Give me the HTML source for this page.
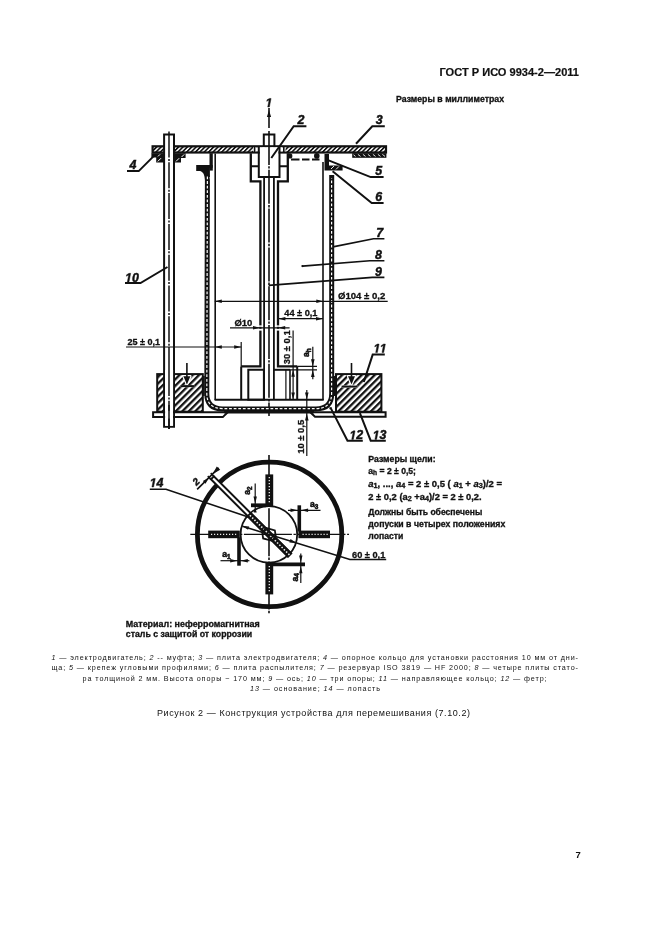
<!DOCTYPE html>
<html lang="ru">
<head>
<meta charset="utf-8">
<title>ГОСТ Р ИСО 9934-2—2011</title>
<style>
html,body{margin:0;padding:0;background:#fff;}
body{width:661px;height:936px;position:relative;overflow:hidden;font-family:"Liberation Sans",sans-serif;color:#111;}
svg{position:absolute;left:0;top:0;will-change:transform;}
svg text{font-family:"Liberation Sans",sans-serif;fill:#111;}
.hdr{font-weight:bold;font-size:10.6px;stroke:#111;stroke-width:0.2px;}
.lbl{font-weight:bold;font-style:italic;font-size:12.4px;stroke:#111;stroke-width:0.45px;}
.dim{font-weight:bold;font-size:9.3px;stroke:#111;stroke-width:0.3px;}
.note{font-weight:bold;font-size:8.6px;stroke:#111;stroke-width:0.3px;}
.cap{font-size:7.2px;}
.fig{font-size:9px;}
.k{stroke:#111;fill:none;stroke-width:2;}
.t{stroke:#111;fill:none;stroke-width:1.2;}
.m{stroke:#111;fill:none;stroke-width:1.6;}
.f{fill:#111;stroke:none;}
#section,#dims,#plan{filter:blur(0.3px);}
.note{filter:blur(0.35px);}
</style>
</head>
<body>
<svg width="661" height="936" viewBox="0 0 661 936">
<defs>
<pattern id="h1" width="3.1" height="3.1" patternUnits="userSpaceOnUse" patternTransform="rotate(45)">
<rect x="0" y="0" width="1.65" height="3.1" fill="#111"/>
</pattern>
<pattern id="h2" width="4.6" height="4.6" patternUnits="userSpaceOnUse" patternTransform="rotate(45)">
<rect x="0" y="0" width="2.3" height="4.6" fill="#111"/>
</pattern>
<pattern id="dots" width="3" height="3" patternUnits="userSpaceOnUse">
<rect width="3" height="3" fill="#111"/><rect x="0.9" y="0.9" width="1.3" height="1.3" fill="#ccc"/>
</pattern>
<pattern id="dots2" width="3.2" height="4.6" patternUnits="userSpaceOnUse">
<rect width="3.2" height="4.6" fill="#111"/><rect x="1" y="1.7" width="1.3" height="1.2" fill="#eee"/>
</pattern>
<path id="g1" d="M381 0L604 1152L223 938L270 1180L666 1409H936L661 0Z" fill="#111" stroke="#111" stroke-width="74" stroke-linejoin="miter"/>
</defs>
<g id="text">
<text class="hdr" x="439.5" y="75.6" textLength="139.5" lengthAdjust="spacingAndGlyphs">ГОСТ Р ИСО 9934-2—2011</text>
<text class="note" x="396" y="102" textLength="108" lengthAdjust="spacingAndGlyphs">Размеры в миллиметрах</text>
<text class="cap" x="51.5" y="659.8" textLength="526.5" lengthAdjust="spacing"><tspan font-style="italic">1</tspan> — электродвигатель; <tspan font-style="italic">2</tspan> -- муфта; <tspan font-style="italic">3</tspan> — плита электродвигателя; <tspan font-style="italic">4</tspan> — опорное кольцо для установки расстояния 10 мм от дни-</text>
<text class="cap" x="51.5" y="670.2" textLength="526.5" lengthAdjust="spacing">ща; <tspan font-style="italic">5</tspan> — крепеж угловыми профилями; <tspan font-style="italic">6</tspan> — плита распылителя; <tspan font-style="italic">7</tspan> — резервуар ISO 3819 — HF 2000; <tspan font-style="italic">8</tspan> — четыре плиты стато-</text>
<text class="cap" x="82.6" y="680.6" textLength="464" lengthAdjust="spacing">ра толщиной 2 мм. Высота опоры ~ 170 мм; <tspan font-style="italic">9</tspan> — ось; <tspan font-style="italic">10</tspan> — три опоры; <tspan font-style="italic">11</tspan> — направляющее кольцо; <tspan font-style="italic">12</tspan> — фетр;</text>
<text class="cap" x="250" y="691" textLength="130" lengthAdjust="spacing"><tspan font-style="italic">13</tspan> — основание; <tspan font-style="italic">14</tspan> — лопасть</text>
<text class="fig" x="157" y="715.8" textLength="313" lengthAdjust="spacing">Рисунок  2 — Конструкция устройства для перемешивания (7.10.2)</text>
<text x="575.5" y="858" font-weight="bold" font-size="9.5">7</text>
<text class="note" x="125.8" y="626.6" textLength="134" lengthAdjust="spacingAndGlyphs">Материал: неферромагнитная</text>
<text class="note" x="125.8" y="637.2" textLength="126.4" lengthAdjust="spacingAndGlyphs">сталь с защитой от коррозии</text>
<text class="note" x="368.3" y="461.6" textLength="67.3" lengthAdjust="spacingAndGlyphs">Размеры щели:</text>
<text class="note" x="368.3" y="473.6">a<tspan font-size="6.6" dy="1.6">h</tspan><tspan dy="-1.6"> = 2 ± 0,5;</tspan></text>
<text class="note" x="368.3" y="486.6" textLength="133.7" lengthAdjust="spacingAndGlyphs"><tspan font-style="italic">a</tspan><tspan font-size="6.6" dy="1.6">1</tspan><tspan dy="-1.6">, ..., </tspan><tspan font-style="italic">a</tspan><tspan font-size="6.6" dy="1.6">4</tspan><tspan dy="-1.6"> = 2 ± 0,5 ( </tspan><tspan font-style="italic">a</tspan><tspan font-size="6.6" dy="1.6">1</tspan><tspan dy="-1.6"> + </tspan><tspan font-style="italic">a</tspan><tspan font-size="6.6" dy="1.6">3</tspan><tspan dy="-1.6">)/2 =</tspan></text>
<text class="note" x="368.3" y="499.8" textLength="113.3" lengthAdjust="spacingAndGlyphs">2 ± 0,2 (a<tspan font-size="6.6" dy="1.6">2</tspan><tspan dy="-1.6"> +a</tspan><tspan font-size="6.6" dy="1.6">4</tspan><tspan dy="-1.6">)/2 = 2 ± 0,2.</tspan></text>
<text class="note" x="368.3" y="514.6" textLength="114" lengthAdjust="spacingAndGlyphs">Должны быть обеспечены</text>
<text class="note" x="368.3" y="527.3" textLength="137" lengthAdjust="spacingAndGlyphs">допуски в четырех положениях</text>
<text class="note" x="368.3" y="539.2" textLength="35" lengthAdjust="spacingAndGlyphs">лопасти</text>
</g>
<!--TEXT_END-->
<g id="section">
<!-- plate 3 -->
<rect x="152.6" y="146.3" width="233.4" height="6.2" fill="url(#h1)"/>
<rect x="152.6" y="146.3" width="233.4" height="6.2" class="k" style="stroke-width:2.2"/>
<!-- rod hole & coupling hole in plate -->
<rect x="164" y="147.4" width="10" height="4" fill="#fff"/>
<rect x="253" y="147.4" width="32.5" height="4" fill="#fff"/>
<!-- ring 4 -->
<path class="f" d="M151.4 153.2H164V162.6H156.2V157.6H151.4Z"/>
<path class="f" d="M174.2 153.2H185.6V158H181V162.6H174.2Z"/>
<path d="M157.8 161.4l3.2-3.2M176 161.4l3.2-3.2M181.6 157l2.6-2.6M158 156.4l2-2" stroke="#fff" stroke-width="1"/>
<!-- ring right under plate -->
<rect x="352.2" y="153.2" width="34.2" height="4.6" class="f"/>
<path d="M355.5 156.4l-2-1.6M360.5 156.4l-2.6-2M365.5 156.4l-2.6-2M370.5 156.4l-2.6-2M375.5 156.4l-2.6-2M380.5 156.4l-2.6-2M385 156.4l-2.6-2" stroke="#fff" stroke-width="0.9"/>
<!-- rod 10 -->
<path class="k" d="M164.1 426.7V134.6H174V426.7Z" style="fill:#fff"/>
<path class="m" d="M169 131.5V429" stroke-dasharray="26 1.4 2 1.4" style="stroke-width:1.5"/>
<!-- motor stub -->
<path class="k" d="M263.8 146V134.6H274.4V146"/>
<!-- coupling inner box -->
<rect x="259.8" y="147.4" width="18.7" height="28.6" fill="#fff"/>
<path class="k" d="M258.8 146V177H279.5V146"/>
<!-- housing -->
<path class="k" d="M250.8 153.2V181.3H260.4V366.4H241.2" style="stroke-width:2.3"/>
<path class="k" d="M287.8 153.2V181.3H278V366.4H297.2" style="stroke-width:2.3"/>
<path class="k" d="M250.8 166.2H258.8M279.5 166.2H287.8"/>
<path class="m" d="M254.6 146.5V153M283.8 146.5V153"/>
<!-- Ø10 gaps -->
<rect x="258" y="325.4" width="22" height="1.4" fill="#fff"/>
<rect x="258" y="328.8" width="22" height="1.8" fill="#fff"/>
<!-- inner shaft -->
<path class="m" d="M264.1 177V399.6M273.9 177V399.6" style="stroke-width:1.8"/>
<!-- centre line -->
<path class="m" d="M269 108V128" />
<path class="m" d="M269 131V416" stroke-dasharray="34 1.2 2.4 1.2"/>
<path class="f" d="M269 110l-2.1 7h4.2z"/>
<!-- stator frame -->
<path class="f" d="M209.5 153.2h3.3V170.6h-3.3z"/>
<path class="m" d="M215.2 153.5V400"/>
<path class="k" d="M214.6 399.7H323.7"/>
<path class="m" d="M323 162V400"/>
<path class="k" d="M241.2 366.4V399.7M297.2 366.4V399.7"/>
<path class="t" d="M241.2 342V366.4"/>
<!-- blade boxes -->
<path class="k" d="M248.3 369.8H263.9V399.7H248.3Z"/>
<path class="k" d="M273.6 369.8H290"/>
<path class="m" d="M290 369.8V399.7"/>
<path class="t" d="M285.9 370V399.7"/>
<path class="t" d="M297.2 366.3H317M290 369.8H317"/>
<!-- tank wall -->
<path class="f" d="M196.2 165.1H212.7V167.7H209.9V177H205Q204.6 171.2 200.4 170.9H196.2Z"/>
<path d="M199.4 168Q207.4 169.5 207.4 180L206.8 393.5Q206.8 408.9 222.5 408.9H316Q331.7 408.9 331.7 393.5V175" stroke="#111" stroke-width="5" fill="none"/>
<path d="M207.4 176.5L206.8 393.5Q206.8 408.6 222.5 408.6H316Q331.6 408.6 331.6 393.5V178" stroke="#fff" stroke-width="1.2" fill="none" stroke-dasharray="2.8 1.8"/>
<path class="k" d="M334.6 376V396M203.9 376V396" style="stroke-width:1.6"/>
<!-- felt 12 -->
<path d="M224 412.2H314" stroke="#111" stroke-width="2.8" fill="none"/>
<rect x="329.4" y="407.2" width="2.4" height="2" class="f"/>
<!-- right top fastening 5/6 -->
<path class="f" d="M324.5 154H329V165.4H342.6V170.4H324.5Z"/>
<path d="M331 169l3-3M336 169.4l3-3" stroke="#fff" stroke-width="0.9"/>
<circle cx="289.8" cy="155.9" r="2.6" class="f"/>
<circle cx="316.8" cy="155.9" r="2.8" class="f"/>
<path class="k" d="M291 159.5H299.5M302 159.5H309.5M312 159.5H319.5" stroke-width="1.5"/>
<!-- blocks 11 -->
<rect x="157.2" y="374.1" width="45.6" height="37.6" fill="url(#h2)"/>
<rect x="157.2" y="374.1" width="45.6" height="37.6" class="k"/>
<rect x="336" y="374.1" width="45.4" height="37.6" fill="url(#h2)"/>
<rect x="336" y="374.1" width="45.4" height="37.6" class="k"/>
<!-- rod over block -->
<rect x="165" y="370" width="8.1" height="55.8" fill="#fff"/>
<path class="m" d="M169 370V429" stroke-dasharray="26 1.4 2 1.4" style="stroke-width:1.5"/>
<!-- base 13 -->
<path class="k" d="M224 412.2H153.1V417.1H222.8L229 411"/>
<path class="k" d="M314 412.2H385.6V416.8H315L309 411"/>
<rect x="165.1" y="410.8" width="7.9" height="7.8" fill="#fff"/>
<path class="m" d="M169 405V429" style="stroke-width:1.5"/>
</g>
<!--SECTION_END-->
<g id="dims">
<!-- labels -->
<use href="#g1" transform="translate(265.4 107) scale(0.006055 -0.006055)"/>
<text class="lbl" x="297.6" y="123.8">2</text><path class="k" d="M306.4 126.2H293.7L271.3 158"/>
<text class="lbl" x="375.8" y="123.8">3</text><path class="k" d="M384.8 126.2H372.3L356 143.7"/>
<text class="lbl" x="129.4" y="168.8">4</text><path class="k" d="M127 171.1H138.7L153.7 156.1"/>
<text class="lbl" x="375.3" y="175.3">5</text><path class="k" d="M383.6 177.1H370.7L328.6 160.4"/>
<text class="lbl" x="375.3" y="201.2">6</text><path class="k" d="M383.6 203H371.7L332.6 171.3"/>
<text class="lbl" x="376.2" y="236.8">7</text><path class="m" d="M384.4 238.8H373.5L332.9 246.9"/>
<text class="lbl" x="375" y="259">8</text><path class="m" d="M384.4 260.7H369.8L302.4 266.1"/><circle cx="302.4" cy="266.1" r="1.1" class="f"/>
<text class="lbl" x="375" y="275.8">9</text><path class="m" d="M384.4 277.4H372.3L268.7 285.4"/>
<use href="#g1" transform="translate(125 281.9) scale(0.006055 -0.006055)"/><text class="lbl" x="131.9" y="281.9">0</text><path class="k" d="M125 283.1H140.5L167.5 267"/>
<use href="#g1" transform="translate(373.4 352.6) scale(0.006055 -0.006055)"/><use href="#g1" transform="translate(379.7 352.6) scale(0.006055 -0.006055)"/><path class="k" d="M384.8 354.6H372.7L363.8 382"/>
<use href="#g1" transform="translate(349.4 439.4) scale(0.006055 -0.006055)"/><text class="lbl" x="356.3" y="439.4">2</text><path class="k" d="M362.8 440.7H347.5L331 408.6"/>
<use href="#g1" transform="translate(372.6 439.4) scale(0.006055 -0.006055)"/><text class="lbl" x="379.5" y="439.4">3</text><path class="k" d="M385.8 440.7H370.7L359.9 413.1"/>
<!-- dims -->
<text class="dim" x="338" y="299" textLength="47.3" lengthAdjust="spacingAndGlyphs">Ø104 ± 0,2</text>
<path class="t" d="M214.8 301.3H387.7"/>
<path class="f" d="M214.8 301.3l7-1.8v3.6zM323.3 301.3l-7-1.8v3.6z"/>
<text class="dim" x="284.3" y="315.8" textLength="33.2" lengthAdjust="spacingAndGlyphs">44 ± 0,1</text>
<path class="t" d="M278.4 318.7H323"/>
<path class="f" d="M278.4 318.7l7-1.8v3.6zM323 318.7l-7-1.8v3.6z"/>
<text class="dim" x="234.4" y="325.6" textLength="18" lengthAdjust="spacingAndGlyphs">Ø10</text>
<path class="t" d="M230 327.8H289.6"/>
<path class="f" d="M260 327.8l-7-1.8v3.6zM278.2 327.8l7-1.8v3.6z"/>
<text class="dim" x="127.4" y="344.6" textLength="32.6" lengthAdjust="spacingAndGlyphs">25 ± 0,1</text>
<path class="t" d="M126 347H241.2"/>
<path class="f" d="M214.8 347l7-1.8v3.6zM241.2 347l-7-1.8v3.6z"/>
<text class="dim" transform="translate(290.2 364.2) rotate(-90)" textLength="33.8" lengthAdjust="spacingAndGlyphs">30 ± 0,1</text>
<path class="t" d="M293.1 330.5V399.7"/>
<path class="f" d="M293.1 369.8l-1.8 7h3.6zM293.1 399.4l-1.8-7h3.6z"/>
<text class="dim" style="font-size:8.6px;stroke-width:0.55px" transform="translate(309.3 357) rotate(-90)">a<tspan font-size="6.4" dy="1.5">h</tspan></text>
<path class="t" d="M312.8 346.8V379.3"/>
<path class="f" d="M312.8 366.2l-1.8-7h3.6zM312.8 369.9l-1.8 7h3.6z"/>
<text class="dim" transform="translate(303.8 453.8) rotate(-90)" textLength="34" lengthAdjust="spacingAndGlyphs">10 ± 0,5</text>
<path class="t" d="M306.8 390V456"/>
<path class="f" d="M306.8 399.6l-1.8-7h3.6zM306.8 413.4l-1.8 7h3.6z"/>
<!-- block arrows -->
<g stroke="#fff" stroke-width="2.4" fill="#fff" stroke-linejoin="round">
<path d="M186.9 375V380M180.5 386.1H194.2M186.9 384.6l-3.5-8.4h7z"/>
<path d="M351.5 375V380M341.6 386.6H357.5M351.5 384.6l-3.5-8.4h7z"/>
</g>
<path class="m" d="M186.9 363V380"/><path class="k" d="M180.5 386.1H194.2"/>
<path class="f" d="M186.9 384.6l-3.5-8.4h7z"/>
<path class="m" d="M351.5 363V380"/><path class="k" d="M341.6 386.6H357.5"/>
<path class="f" d="M351.5 384.6l-3.5-8.4h7z"/>
</g>
<!--DIMS_END-->
<g id="plan">
<circle cx="269.6" cy="534.4" r="72.2" fill="none" stroke="#111" stroke-width="4.8"/>
<circle cx="268.9" cy="534.4" r="28.3" class="m" style="stroke-width:1.8"/>
<path class="m" d="M269 455V614.5" stroke-dasharray="48 1.4 2.4 1.4"/>
<path class="t" d="M190.3 534.3H349" stroke-dasharray="48 1.6 2.4 1.6"/>
<!-- stator bars -->
<g class="f">
<rect x="265.4" y="474.4" width="7.8" height="31.6"/>
<rect x="265.4" y="563" width="7.8" height="31.4"/>
<rect x="208.2" y="530.6" width="31.6" height="7.6"/>
<rect x="298.4" y="530.6" width="31.6" height="7.6"/>
</g>
<g stroke="#eee" stroke-width="1.3" stroke-dasharray="1.2 1.8" fill="none">
<path d="M269.3 477V504M269.3 566V593M211 534.4H238M302.5 534.4H329"/>
</g>
<!-- blade -->
<g transform="translate(269 534.4) rotate(45)">
<rect x="-80" y="-2.1" width="109" height="4.2" fill="#fff" stroke="#111" stroke-width="2"/>
<rect x="-29" y="-3.2" width="59" height="6.4" class="f"/><path d="M-27 0H29" stroke="#f0f0f0" stroke-width="1.6" stroke-dasharray="1.5 1.7" fill="none"/>
<path d="M-84.5 -2.1H-80M-84.5 2.1H-80" class="m"/>
<path d="M-82.6 -11.5V19" class="m"/>
<path class="f" d="M-82.6 -2.6l-2.4 -8.6h4.8zM-82.6 2.6l-1.9 6.4h3.8z"/>
<text class="lbl" style="font-size:10px" text-anchor="middle" transform="translate(-85.4 14.2) rotate(-90)">2</text>
<path d="M-4.6 -5.4H4.6L7 0L4.6 5.4H-4.6L-7 0Z" transform="rotate(-30)" fill="none" stroke="#111" stroke-width="1.8"/>
</g>
<!-- a2 -->
<path d="M251 505.3H266" stroke="#111" stroke-width="3.8"/>
<path class="t" d="M255.2 483.5V512"/>
<path class="f" d="M255.2 503.4l-1.7-7h3.4zM255.2 507.4l-1.5 5h3z"/>
<text class="dim" style="font-size:8.6px;stroke-width:0.55px" transform="translate(250.2 494.8) rotate(-90)">a<tspan font-size="6.4" dy="1.6">2</tspan></text>
<!-- a3 -->
<path d="M299.3 505.3V531.4" stroke="#111" stroke-width="3.6"/>
<path class="t" d="M288 510.3H320.5"/>
<path class="f" d="M297.5 510.3l-7-1.7v3.4zM301.1 510.3l7-1.7v3.4z"/>
<text class="dim" style="font-size:8.6px;stroke-width:0.55px" x="310" y="507">a<tspan font-size="6.4" dy="1.6">3</tspan></text>
<!-- a1 -->
<path d="M239 537.4V565.7" stroke="#111" stroke-width="3.6"/>
<path class="t" d="M220.5 560.7H249.4"/>
<path class="f" d="M237.2 560.7l-7-1.7v3.4zM240.8 560.7l7-1.7v3.4z"/>
<text class="dim" style="font-size:8.6px;stroke-width:0.55px" x="222.2" y="557">a<tspan font-size="6.4" dy="1.6">1</tspan></text>
<!-- a4 -->
<path d="M272.6 564.4H305" stroke="#111" stroke-width="3.6"/>
<path class="t" d="M300.8 553.5V583"/>
<path class="f" d="M300.8 562.6l-1.7-7h3.4zM300.8 566.2l-1.7 7h3.4z"/>
<text class="dim" style="font-size:8.6px;stroke-width:0.55px" transform="translate(297.6 581.6) rotate(-90)">a<tspan font-size="6.4" dy="1.6">4</tspan></text>
<!-- leaders -->
<use href="#g1" transform="translate(149.6 487) scale(0.006055 -0.006055)"/><text class="lbl" x="156.5" y="487">4</text>
<path class="m" d="M149.8 489.3H166L249 517.2"/>
<path class="m" d="M242.5 526.2L349.9 559.5H386.2" />
<path class="f" d="M242 526l7.2 0.4l-1.1 3.4zM296.6 542.9l-7.2-0.4l1.1-3.4z"/>
<text class="dim" x="352" y="558.1" textLength="33.3" lengthAdjust="spacingAndGlyphs">60 ± 0,1</text>
</g>
<!--PLAN_END-->
</svg>
</body>
</html>
